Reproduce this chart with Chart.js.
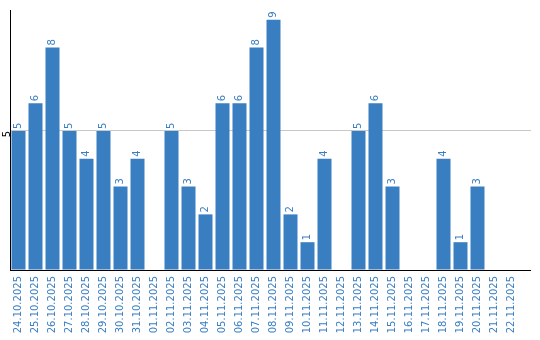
<!DOCTYPE html>
<html><head><meta charset="utf-8">
<script src="https://cdn.jsdelivr.net/npm/chart.js@4"></script>
<style>html,body{margin:0;padding:0;background:#fff}#wrap{width:540px;height:340px}</style>
</head><body><div id="wrap"><canvas id="c" width="540" height="340"></canvas></div>
<script>
const categories = ["24.10.2025","25.10.2025","26.10.2025","27.10.2025","28.10.2025","29.10.2025","30.10.2025","31.10.2025","01.11.2025","02.11.2025","03.11.2025","04.11.2025","05.11.2025","06.11.2025","07.11.2025","08.11.2025","09.11.2025","10.11.2025","11.11.2025","12.11.2025","13.11.2025","14.11.2025","15.11.2025","16.11.2025","17.11.2025","18.11.2025","19.11.2025","20.11.2025","21.11.2025","22.11.2025"];
const values = [5,6,8,5,4,5,3,4,0,5,3,2,6,6,8,9,2,1,4,0,5,6,3,0,0,4,1,3,0,0];
const yTickLabels = [5];

const BLUE = '#3a7ec2';
const FONT = 'DejaVu Sans';
const align = p => Math.round(p - 0.5) + 0.5;

const valueLabels = {
  id: 'valueLabels',
  afterDatasetsDraw(chart) {
    const ctx = chart.ctx;
    const meta = chart.getDatasetMeta(0);
    ctx.save();
    ctx.fillStyle = BLUE;
    ctx.font = '10px "' + FONT + '"';
    ctx.textAlign = 'left';
    ctx.textBaseline = 'middle';
    meta.data.forEach((bar, i) => {
      const v = values[i];
      if (!v) return;
      ctx.save();
      ctx.translate(bar.x, bar.y - 2);
      ctx.rotate(-Math.PI / 2);
      ctx.fillText(String(v), 0, 0);
      ctx.restore();
    });
    ctx.restore();
  }
};

const axisExt = {
  id: 'axisExt',
  beforeDatasetsDraw(chart) {
    const a = chart.chartArea, ctx = chart.ctx, y = chart.scales.y;
    ctx.save();
    ctx.strokeStyle = '#c8c8c8';
    ctx.lineWidth = 1;
    yTickLabels.forEach(v => {
      const py = align(y.getPixelForValue(v));
      ctx.beginPath();
      ctx.moveTo(a.right - 1, py);
      ctx.lineTo(531, py);
      ctx.stroke();
    });
    ctx.restore();
  },
  afterDraw(chart) {
    const a = chart.chartArea, ctx = chart.ctx;
    ctx.save();
    ctx.strokeStyle = '#000';
    ctx.lineWidth = 1;
    const py = align(a.bottom);
    ctx.beginPath();
    ctx.moveTo(a.right - 1, py);
    ctx.lineTo(531, py);
    ctx.stroke();
    ctx.restore();
  }
};

new Chart(document.getElementById('c'), {
  type: 'bar',
  data: {
    labels: categories,
    datasets: [{ data: values, backgroundColor: BLUE, borderWidth: 0,
      barPercentage: 14/17, categoryPercentage: 1 }]
  },
  options: {
    responsive: false,
    animation: false,
    events: [],
    layout: { padding: { top: 10, right: 20, left: 0, bottom: 0 } },
    plugins: { legend: { display: false }, tooltip: { enabled: false } },
    scales: {
      x: {
        offset: true,
        grid: { display: false, drawTicks: false },
        border: { display: true, color: '#000', width: 1 },
        ticks: { color: BLUE, font: { family: FONT, size: 10 }, minRotation: 90, maxRotation: 90, padding: 6, autoSkip: false },
        afterFit(s) { s.height = 70; }
      },
      y: {
        min: 0, max: 9.35,
        afterBuildTicks(s) { s.ticks = [{ value: 0 }].concat(yTickLabels.map(v => ({ value: v }))); },
        grid: { drawTicks: false, color: c => (c.tick && yTickLabels.includes(c.tick.value)) ? '#c8c8c8' : 'rgba(0,0,0,0)' },
        border: { display: true, color: '#000', width: 1 },
        ticks: { color: '#000', font: { family: FONT, size: 10 }, minRotation: 90, maxRotation: 90, padding: 3,
          callback: v => yTickLabels.includes(v) ? String(v) : '' },
        afterFit(s) { s.width = 10; }
      }
    }
  },
  plugins: [valueLabels, axisExt]
});
</script></body></html>
